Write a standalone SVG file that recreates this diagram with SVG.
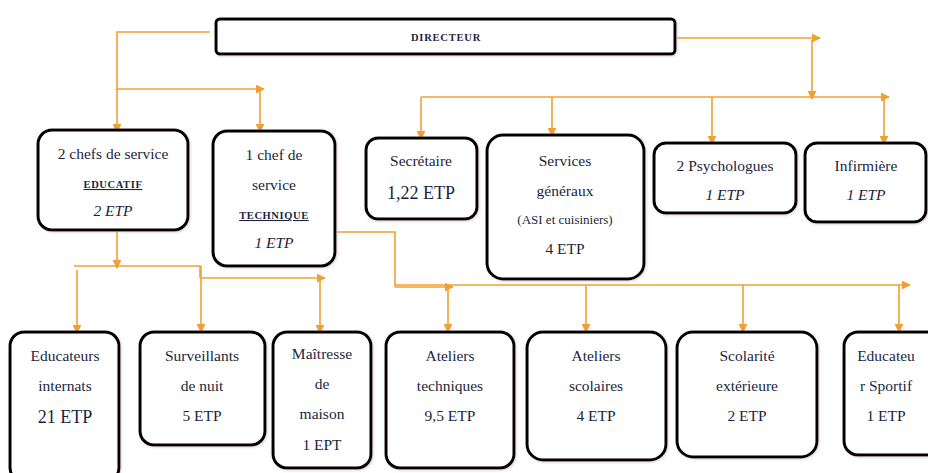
<svg xmlns="http://www.w3.org/2000/svg" width="928" height="473" viewBox="0 0 928 473">
<defs>
<marker id="ah" viewBox="0 0 10 10" refX="9" refY="5" markerWidth="9" markerHeight="9" orient="auto" markerUnits="userSpaceOnUse">
<path d="M0,0 L10,5 L0,10 z" fill="#f0a033"/>
</marker>
<filter id="sh" x="-10%" y="-10%" width="120%" height="120%">
<feDropShadow dx="1" dy="1" stdDeviation="1" flood-color="#c9a0b0" flood-opacity="0.5"/>
</filter>
</defs>
<style>
.box{fill:#fff;stroke:#000;stroke-width:3;filter:url(#sh)}
.t{font-family:'Liberation Serif','DejaVu Serif',serif;font-size:15.5px;fill:#1d1f3d;text-anchor:middle}
.big{font-size:18px}
.it{font-style:italic}
.sm{font-size:13px}
.cap{font-weight:bold;font-size:10.5px;letter-spacing:0.6px;text-decoration:underline}
.ln{fill:none;stroke:#f0a033;stroke-width:1.6}
.arr{marker-end:url(#ah)}
</style>
<rect width="928" height="473" fill="#fff"/>
<g id="connectors">
<path class="ln" d="M210,32 H117 V90"/>
<path class="ln arr" d="M117,89 V132"/>
<path class="ln arr" d="M117,89 H264"/>
<path class="ln arr" d="M260,89 V132"/>
<path class="ln arr" d="M677,38 H820"/>
<path class="ln arr" d="M812,40 V99"/>
<path class="ln arr" d="M421,97 H889"/>
<path class="ln arr" d="M421,97 V139"/>
<path class="ln arr" d="M552,97 V136"/>
<path class="ln arr" d="M712,97 V144"/>
<path class="ln arr" d="M884,97 V144"/>
<path class="ln arr" d="M117,230 V268"/>
<path class="ln" d="M74,266 H200 V278"/>
<path class="ln arr" d="M200,278 H325"/>
<path class="ln arr" d="M77,270 V333"/>
<path class="ln arr" d="M201,266 V332"/>
<path class="ln arr" d="M320,278 V333"/>
<path class="ln" d="M337,232 H395 V287"/>
<path class="ln arr" d="M395,287 H453"/>
<path class="ln arr" d="M395,285 H910"/>
<path class="ln arr" d="M448,287 V332"/>
<path class="ln arr" d="M586,285 V332"/>
<path class="ln arr" d="M743,285 V332"/>
<path class="ln arr" d="M899,285 V332"/>
</g>
<g id="directeur">
<rect class="box" x="216" y="19" width="459" height="35" rx="4"/>
<text class="t" x="446" y="41" font-family="Liberation Serif, serif" style="font-weight:bold;font-size:10.5px;letter-spacing:0.8px">DIRECTEUR</text>
</g>
<g id="chefs-educatif" font-family="Liberation Serif, serif">
<rect class="box" x="38" y="130" width="150" height="100" rx="14"/>
<text class="t" x="113" y="159">2 chefs de service</text>
<text class="t cap" x="113" y="188">EDUCATIF</text>
<text class="t it" x="113" y="216">2 ETP</text>
</g>
<g id="chef-technique">
<rect class="box" x="213" y="131" width="122" height="135" rx="14"/>
<text class="t" x="274" y="160">1 chef de</text>
<text class="t" x="274" y="190">service</text>
<text class="t cap" x="274" y="219">TECHNIQUE</text>
<text class="t it" x="274" y="248">1 ETP</text>
</g>
<g id="secretaire">
<rect class="box" x="366" y="138" width="111" height="81" rx="12"/>
<text class="t" x="421" y="166">Secrétaire</text>
<text class="t big" x="421" y="199">1,22 ETP</text>
</g>
<g id="services-generaux">
<rect class="box" x="487" y="135" width="157" height="144" rx="16"/>
<text class="t" x="565" y="166">Services</text>
<text class="t" x="565" y="196">généraux</text>
<text class="t sm" x="565" y="224">(ASI et cuisiniers)</text>
<text class="t" x="565" y="254">4 ETP</text>
</g>
<g id="psychologues">
<rect class="box" x="654" y="143" width="142" height="70" rx="12"/>
<text class="t" x="725" y="171">2 Psychologues</text>
<text class="t it" x="725" y="200">1 ETP</text>
</g>
<g id="infirmiere">
<rect class="box" x="805" y="143" width="121" height="79" rx="12"/>
<text class="t" x="866" y="171">Infirmière</text>
<text class="t it" x="866" y="200">1 ETP</text>
</g>
<g id="educateurs-internats">
<rect class="box" x="10" y="332" width="109" height="150" rx="14"/>
<text class="t" x="65" y="361">Educateurs</text>
<text class="t" x="65" y="391">internats</text>
<text class="t big" x="65" y="423">21 ETP</text>
</g>
<g id="surveillants">
<rect class="box" x="140" y="332" width="125" height="113" rx="14"/>
<text class="t" x="202" y="361">Surveillants</text>
<text class="t" x="202" y="391">de nuit</text>
<text class="t" x="202" y="421">5 ETP</text>
</g>
<g id="maitresse">
<rect class="box" x="273" y="332" width="98" height="136" rx="14"/>
<text class="t" x="322" y="359">Maîtresse</text>
<text class="t" x="322" y="389">de</text>
<text class="t" x="322" y="419">maison</text>
<text class="t" x="322" y="450">1 EPT</text>
</g>
<g id="ateliers-techniques">
<rect class="box" x="386" y="332" width="128" height="136" rx="14"/>
<text class="t" x="450" y="361">Ateliers</text>
<text class="t" x="450" y="391">techniques</text>
<text class="t" x="450" y="421">9,5 ETP</text>
</g>
<g id="ateliers-scolaires">
<rect class="box" x="527" y="332" width="139" height="128" rx="16"/>
<text class="t" x="596" y="361">Ateliers</text>
<text class="t" x="596" y="391">scolaires</text>
<text class="t" x="596" y="421">4 ETP</text>
</g>
<g id="scolarite">
<rect class="box" x="677" y="332" width="140" height="125" rx="16"/>
<text class="t" x="747" y="361">Scolarité</text>
<text class="t" x="747" y="391">extérieure</text>
<text class="t" x="747" y="421">2 ETP</text>
</g>
<g id="educateur-sportif">
<rect class="box" x="844" y="332" width="100" height="123" rx="14"/>
<text class="t" x="886" y="361">Educateu</text>
<text class="t" x="886" y="391">r Sportif</text>
<text class="t" x="886" y="421">1 ETP</text>
</g>
</svg>
